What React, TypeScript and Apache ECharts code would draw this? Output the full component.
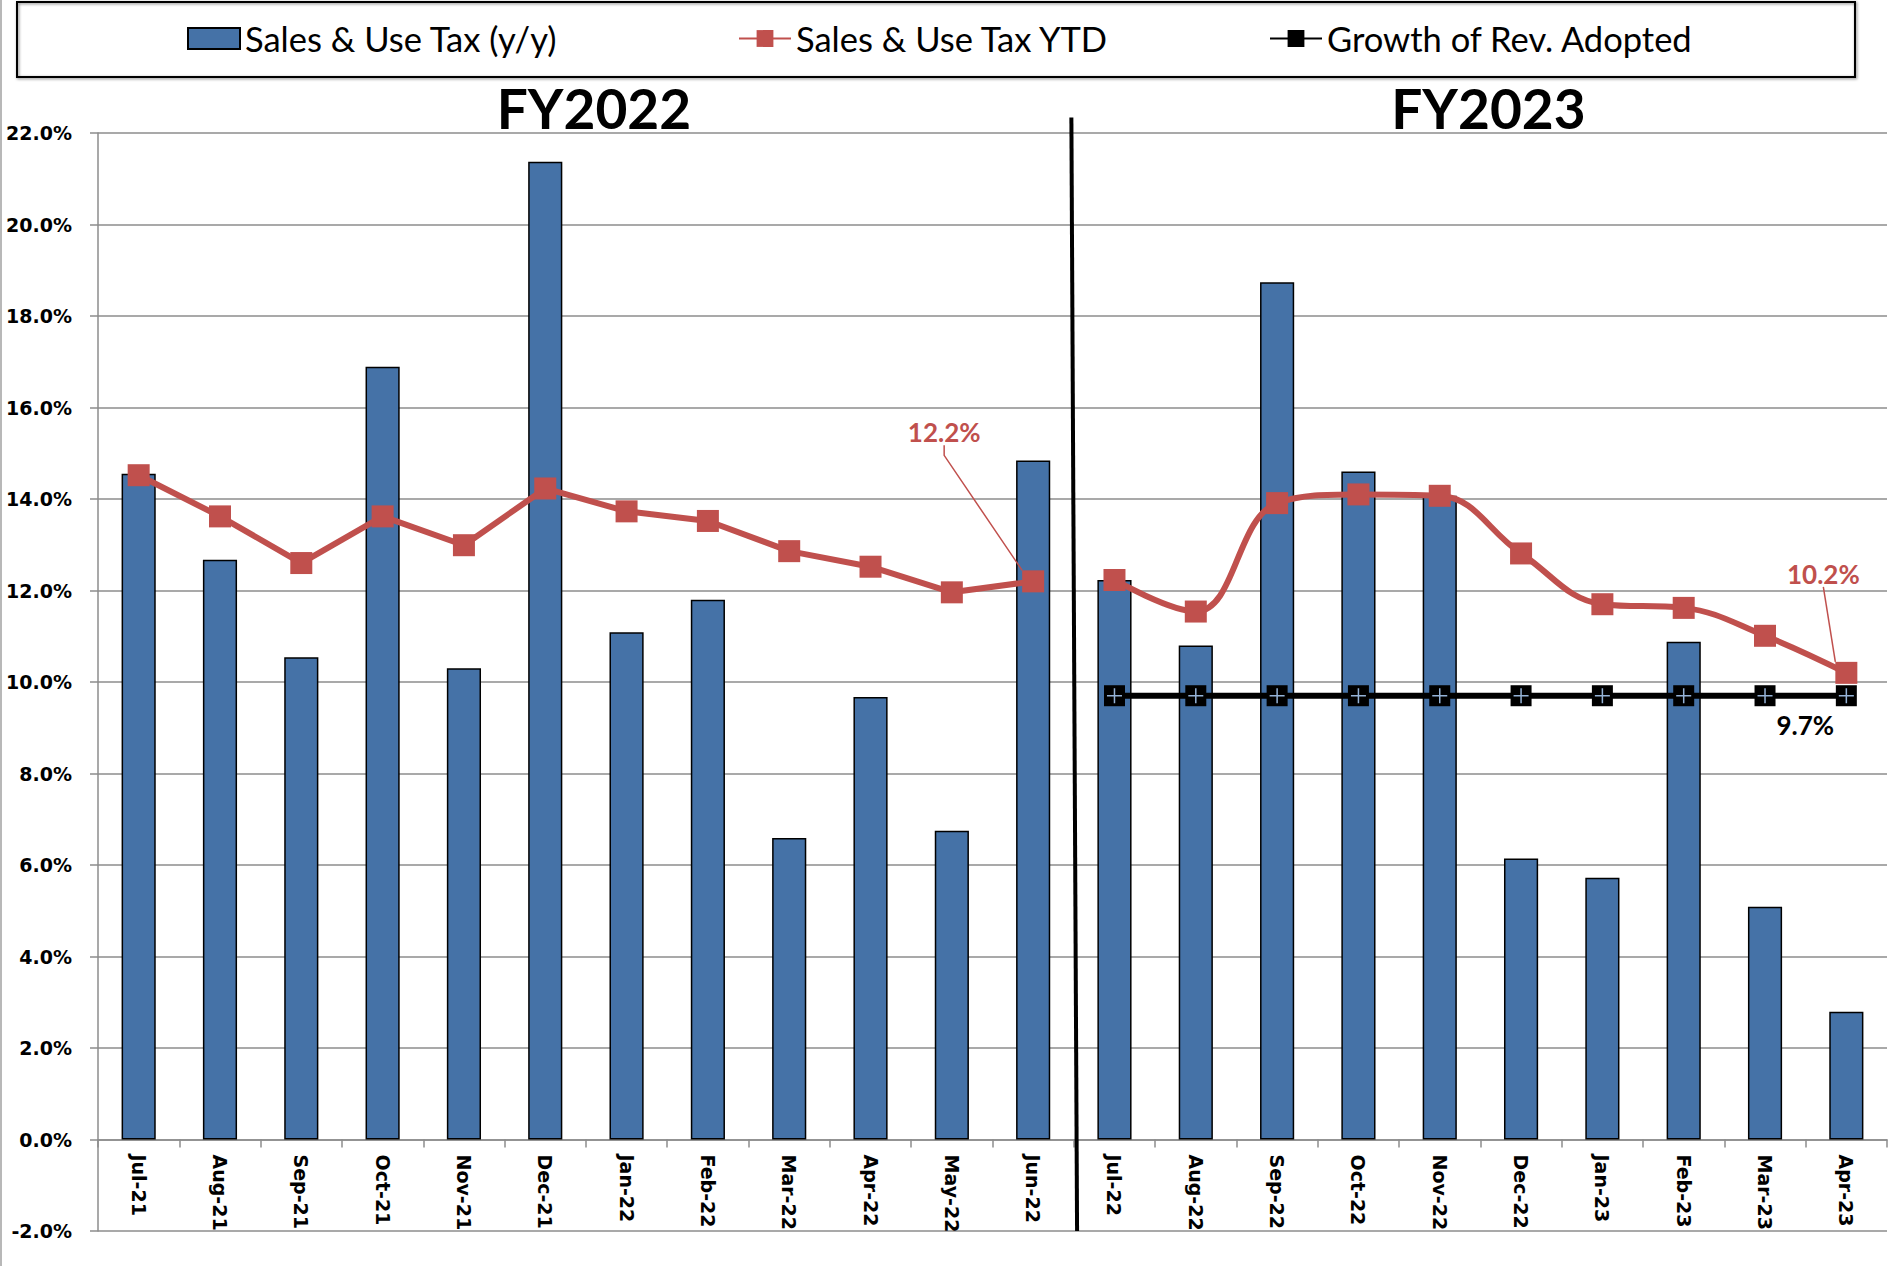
import React, { useEffect, useRef } from "react";
import * as echarts from "echarts";

const categories = [
  "Jul-21", "Aug-21", "Sep-21", "Oct-21", "Nov-21", "Dec-21", "Jan-22", "Feb-22", "Mar-22", "Apr-22", "May-22", "Jun-22",
  "Jul-22", "Aug-22", "Sep-22", "Oct-22", "Nov-22", "Dec-22", "Jan-23", "Feb-23", "Mar-23", "Apr-23",
];
const salesYoY = [
  14.55, 12.67, 10.54, 16.89, 10.3, 21.37, 11.09, 11.8, 6.59, 9.67, 6.75, 14.84,
  12.23, 10.8, 18.74, 14.6, 14.07, 6.14, 5.72, 10.88, 5.09, 2.79,
];
const ytdFY2022 = [14.52, 13.62, 12.6, 13.62, 12.99, 14.23, 13.73, 13.52, 12.86, 12.52, 11.96, 12.2];
const ytdFY2023 = [12.23, 11.54, 13.91, 14.1, 14.07, 12.81, 11.7, 11.62, 11.01, 10.2];
const adoptedGrowth = [9.7, 9.7, 9.7, 9.7, 9.7, 9.7, 9.7, 9.7, 9.7, 9.7];
const fiscalYears = ["FY2022", "FY2023"];
const yMin = -2;
const yMax = 22;
const yInterval = 2;

const LEG1 = "Sales & Use Tax (y/y)";
const LEG2 = "Sales & Use Tax YTD";
const LEG3 = "Growth of Rev. Adopted";

const RED = "#C0504D";
const BLUE = "#4572A7";
const GRID = "#8C8C8C";

export default function App() {
  const ref = useRef<HTMLDivElement>(null);
  useEffect(() => {
    const chart = echarts.init(ref.current!, null, { renderer: "svg" });
    const n22 = ytdFY2022.length;
    const total = categories.length;
    const pad = (arr: number[], before: number) => {
      const out: (number | null)[] = [];
      for (let i = 0; i < total; i++) {
        const j = i - before;
        out.push(j >= 0 && j < arr.length ? arr[j] : null);
      }
      return out;
    };
    const ytd22 = pad(ytdFY2022, 0).map((v, i) =>
      i === n22 - 1 ? { value: v, label: { show: true }, labelLine: { show: true } } : v
    );
    const ytd23 = pad(ytdFY2023, n22).map((v, i) =>
      i === total - 1 ? { value: v, label: { show: true }, labelLine: { show: true } } : v
    );
    const growth = pad(adoptedGrowth, n22).map((v, i) =>
      i === total - 1 ? { value: v, label: { show: true } } : v
    );
    const growthPlus = pad(adoptedGrowth, n22);

    const labelFont = { fontFamily: "Lato", fontWeight: "bold", fontSize: 26 };

    const legendBase = {
      top: 21,
      padding: 0,
      itemWidth: 52,
      itemHeight: 21,
      textStyle: { fontFamily: "Lato", fontSize: 34.5, color: "#000" },
      selectedMode: false,
    };

    const option: any = {
      animation: false,
      backgroundColor: "#fff",
      legend: [
        { ...legendBase, data: [{ name: LEG1, icon: "rect" }], left: 187 },
        { ...legendBase, data: [{ name: LEG2 }], left: 738 },
        { ...legendBase, data: [{ name: LEG3 }], left: 1269 },
      ],
      grid: { left: 98, right: 4, top: 133, bottom: 35, containLabel: false, outerBoundsMode: "none" },
      xAxis: [
        {
          type: "category",
          data: categories,
          axisLine: { onZero: false, lineStyle: { color: GRID, width: 1.5 } },
          axisTick: { show: true, length: 8, lineStyle: { color: GRID, width: 1.5 } },
          axisLabel: {
            rotate: -90,
            margin: 15,
            color: "#000",
            fontFamily: "DejaVu Sans",
            fontWeight: "bold",
            fontSize: 19,
            interval: 0,
          },
        },
        { type: "value", min: 0, max: total, show: false },
      ],
      yAxis: {
        type: "value",
        min: yMin,
        max: yMax,
        interval: yInterval,
        axisLine: { show: true, lineStyle: { color: GRID, width: 1.5 } },
        axisTick: { show: true, length: 8, lineStyle: { color: GRID, width: 1.5 } },
        splitLine: { show: true, lineStyle: { color: GRID, width: 1.5 } },
        axisLabel: {
          margin: 26,
          color: "#000",
          fontFamily: "DejaVu Sans",
          fontWeight: "bold",
          fontSize: 19,
          formatter: (v: number) => v.toFixed(1) + "%",
        },
      },
      series: [
        {
          name: LEG1,
          type: "bar",
          data: salesYoY,
          barWidth: "42%",
          itemStyle: { color: BLUE, borderColor: "#000", borderWidth: 1.5 },
          z: 2,
        },
        {
          name: LEG3,
          type: "line",
          data: growth,
          symbol: "rect",
          symbolSize: 21,
          itemStyle: { color: "#000" },
          lineStyle: { color: "#000", width: 6 },
          label: {
            show: false,
            position: "bottom",
            offset: [-41, 1],
            color: "#000",
            formatter: (p: any) => p.value.toFixed(1) + "%",
            ...labelFont,
          },
          z: 4,
        },
        {
          name: "plusMarks",
          type: "line",
          data: growthPlus,
          symbol: "path://M9,0H11V9H20V11H11V20H9V11H0V9H9Z",
          symbolSize: 15,
          itemStyle: { color: "#95B3D7" },
          lineStyle: { opacity: 0 },
          silent: true,
          z: 5,
        },
        {
          name: LEG2,
          type: "line",
          data: ytd22,
          symbol: "rect",
          symbolSize: 22,
          itemStyle: { color: RED },
          lineStyle: { color: RED, width: 6 },
          label: {
            show: false,
            color: RED,
            formatter: (p: any) => p.value.toFixed(1) + "%",
            ...labelFont,
          },
          labelLine: { show: false, lineStyle: { color: RED, width: 1.5 }, length2: 10 },
          labelLayout: { dx: -89, dy: -120 },
          z: 6,
        },
        {
          name: LEG2,
          type: "line",
          data: ytd23,
          smooth: 0.4,
          symbol: "rect",
          symbolSize: 22,
          itemStyle: { color: RED },
          lineStyle: { color: RED, width: 6 },
          label: {
            show: false,
            color: RED,
            formatter: (p: any) => p.value.toFixed(1) + "%",
            ...labelFont,
          },
          labelLine: { show: false, lineStyle: { color: RED, width: 1.5 } },
          labelLayout: { dx: -23, dy: -70 },
          z: 6,
        },
        {
          name: "divider",
          type: "line",
          xAxisIndex: 1,
          data: [
            [n22 - 0.03, yMax + 0.34],
            [n22 + 0.04, yMin],
          ],
          showSymbol: false,
          symbol: "none",
          clip: false,
          lineStyle: { color: "#000", width: 4 },
          silent: true,
          z: 7,
        },
      ],
    };
    chart.setOption(option);

    const topY = chart.convertToPixel({ yAxisIndex: 0 }, yMax) as number;
    const zeroY = chart.convertToPixel({ yAxisIndex: 0 }, 0) as number;
    const bottomY = chart.convertToPixel({ yAxisIndex: 0 }, yMin) as number;
    const centers = [n22 / 2, n22 + ytdFY2023.length / 2];
    const titleGraphics = fiscalYears.map((t, i) => ({
      type: "text",
      x: (chart.convertToPixel({ xAxisIndex: 1 }, centers[i]) as number) + 8,
      y: topY - 25,
      style: {
        text: t,
        fontFamily: "Lato",
        fontWeight: "bold",
        fontSize: 55,
        fill: "#000",
        align: "center",
        verticalAlign: "middle",
      },
      z: 10,
    }));
    chart.setOption({
      xAxis: [{ offset: -(bottomY - zeroY) }, {}],
      graphic: [
        {
          type: "rect",
          shape: { x: 17, y: 2, width: 1838, height: 75 },
          style: { fill: "none", stroke: "#000", lineWidth: 2, shadowBlur: 3, shadowColor: "rgba(0,0,0,0.5)", shadowOffsetX: 1, shadowOffsetY: 1 },
          silent: true,
        },
        {
          type: "line",
          shape: { x1: 1, y1: 0, x2: 1, y2: 1266 },
          style: { stroke: "#A0A0A0", lineWidth: 1.5 },
          silent: true,
        },
        ...titleGraphics,
      ],
    });
    return () => chart.dispose();
  }, []);
  return (
    <div
      ref={ref}
      style={{ position: "fixed", left: 0, top: 0, width: 1891, height: 1266, background: "#fff" }}
    />
  );
}
